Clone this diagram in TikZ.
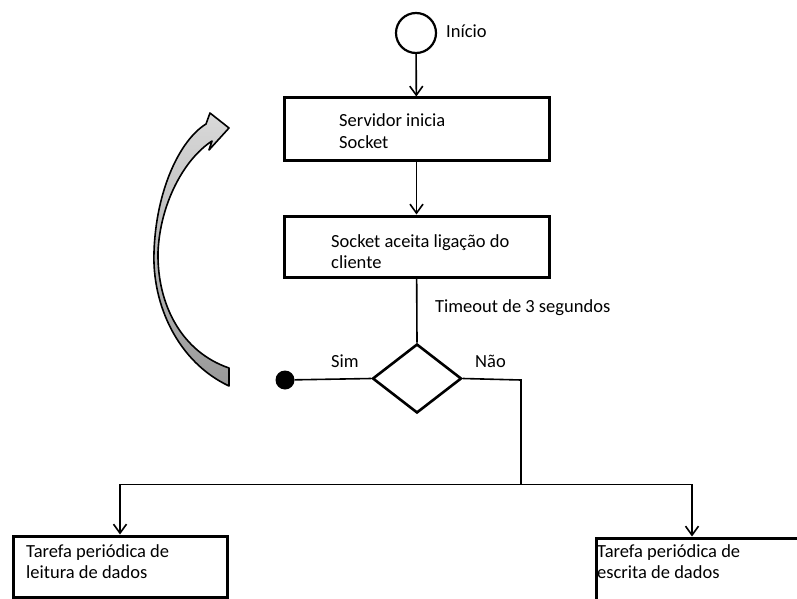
\documentclass[tikz,border=0pt]{standalone}
\usepackage{fontspec}
\setmainfont{Carlito}
\usetikzlibrary{arrows.meta,shapes.geometric}
\begin{document}
\begin{tikzpicture}[x=1pt,y=-1pt,
  box/.style={draw, line width=3pt, minimum width=265pt, minimum height=62pt, inner sep=0pt},
  lbl/.style={font=\fontsize{18.5}{21}\selectfont, inner sep=0pt, anchor=base west, align=left},
  conn/.style={line width=1.6pt},
  arr/.style={conn, -{Straight Barb[length=9pt,width=13pt]}},
  loopy/.style={line width=1.6pt, line join=round, top color=black!15, bottom color=black!40}]
\useasboundingbox (0,0) rectangle (797,599);
\clip (0,0) rectangle (797,599);

\node[circle, draw, line width=2.2pt, minimum size=40pt, inner sep=0pt] (start) at (416,33) {};
\node[lbl] (tinicio) at (446,38) {Início};

\node[box] (b1) at (416.5,129) {};
\node[lbl] (t1) at (339,148) {Servidor inicia\\Socket};

\node[box, minimum height=61pt] (b2) at (416.5,246.5) {};
\node[lbl] (t2) at (331,268) {Socket aceita ligação do\\cliente};

\node[lbl] (ttime) at (435,312) {Timeout de 3 segundos};

\node[diamond, draw, line width=2.6pt, minimum width=89pt, minimum height=69pt, inner sep=0pt] (dec) at (417,378.5) {};
\node[circle, fill, minimum size=19pt, inner sep=0pt] (dot) at (285,380) {};
\node[lbl] (tsim) at (331,367) {Sim};
\node[lbl] (tnao) at (475,367) {Não};

\coordinate (c1) at (521,380);
\coordinate (j) at (521,484.5);

\node[box, minimum width=214pt, minimum height=61pt] (bl) at (120,566.5) {};
\node[lbl] (tl) at (26,578) {Tarefa periódica de\\leitura de dados};

\node[box, minimum width=214pt, minimum height=64pt] (br) at (703,570) {};
\node[lbl] (tr) at (597,578) {Tarefa periódica de\\escrita de dados};

\draw[arr] (start) -- (b1);
\draw[arr] (b1) -- (b2);
\draw[conn] (b2) -- (dec.north);
\draw[conn] (dec.west) -- (dot);
\draw[conn] (dec.east) -- (c1) -- (j);
\draw[arr] (j) -| (bl.north);
\draw[arr] (j) -| ([xshift=-11pt]br.north);

\draw[loopy] (229,386) .. controls (178,362) and (152,305) .. (154,252)
  .. controls (156,190) and (180,140) .. (206,124) -- (210,113) -- (229,128)
  -- (209,150) -- (212,141) .. controls (183,160) and (160,205) .. (158,252)
  .. controls (157,305) and (182,352) .. (229,368) -- cycle;
\end{tikzpicture}
\end{document}
